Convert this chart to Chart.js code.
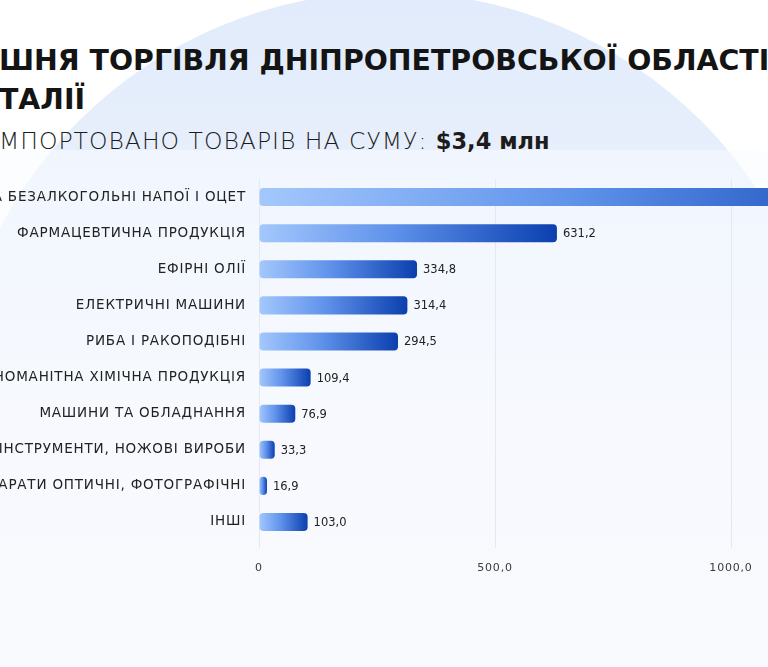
<!DOCTYPE html>
<html lang="uk">
<head>
<meta charset="utf-8">
<title>Імпорт з Італії</title>
<script src="https://cdn.jsdelivr.net/npm/chart.js@4"></script>
<style>
    html, body {
        margin: 0;
        padding: 0;
        width: 768px;
        height: 667px;
        overflow: hidden;
        background: #ffffff;
        font-family: 'DejaVu Sans', sans-serif;
    }
    .page {
        position: relative;
        width: 768px;
        height: 667px;
        overflow: hidden;
        background: linear-gradient(to bottom, #ffffff 0%, #ffffff 40%, #f7f9fd 100%);
    }
    .circle {
        position: absolute;
        left: -50px;
        top: -8px;
        width: 880px;
        height: 880px;
        border-radius: 50%;
        background: linear-gradient(to bottom, #e1ebfb 0%, #e9f0fc 25%, #f4f7fd 50%, #f7f9fd 100%);
    }
    .card {
        position: absolute;
        left: -60px;
        right: -12px;
        top: 150px;
        bottom: -20px;
        border-radius: 28px;
        background: rgba(250, 252, 255, 0.55);
    }
    .titulo {
        position: absolute;
        left: -1px;
        top: 41px;
        margin: 0;
        font-size: 28.4px;
        font-weight: 700;
        line-height: 39px;
        color: #141414;
        white-space: nowrap;
    }
    .linha {
        position: relative;
        display: block;
    }
    .corte {
        position: absolute;
        right: 100%;
        top: 0;
    }
    .subtitulo {
        position: absolute;
        left: -1px;
        top: 127px;
        margin: 0;
        font-size: 23.5px;
        font-weight: 200;
        letter-spacing: 1px;
        color: #1c1c1c;
        white-space: nowrap;
    }
    .subtitulo strong {
        font-weight: 700;
        font-size: 22.5px;
        letter-spacing: 0;
    }
    .chart-box {
        position: absolute;
        left: -71px;
        top: 170px;
        width: 1068px;
        height: 410px;
    }
</style>
</head>
<body>
<div class="page">
    <div class="circle"></div>
    <div class="card"></div>
    <h1 class="titulo">
        <span class="linha"><span class="corte">ЗОВНІ</span>ШНЯ ТОРГІВЛЯ ДНІПРОПЕТРОВСЬКОЇ ОБЛАСТІ ТА</span>
        <span class="linha"><span class="corte">І</span>ТАЛІЇ</span>
    </h1>
    <p class="subtitulo"><span class="linha"><span class="corte">І</span>МПОРТОВАНО ТОВАРІВ НА СУМУ: <strong>$3,4 млн</strong></span></p>
    <div class="chart-box">
        <canvas id="importChart"></canvas>
    </div>
</div>

<script>
// Dados do gráfico (mil dólares)
const categorias = [
    'АЛКОГОЛЬНІ ТА БЕЗАЛКОГОЛЬНІ НАПОЇ І ОЦЕТ',
    'ФАРМАЦЕВТИЧНА ПРОДУКЦІЯ',
    'ЕФІРНІ ОЛІЇ',
    'ЕЛЕКТРИЧНІ МАШИНИ',
    'РИБА І РАКОПОДІБНІ',
    'РІЗНОМАНІТНА ХІМІЧНА ПРОДУКЦІЯ',
    'МАШИНИ ТА ОБЛАДНАННЯ',
    'ІНСТРУМЕНТИ, НОЖОВІ ВИРОБИ',
    'АПАРАТИ ОПТИЧНІ, ФОТОГРАФІЧНІ',
    'ІНШІ'
];
const valores = [1485.6, 631.2, 334.8, 314.4, 294.5, 109.4, 76.9, 33.3, 16.9, 103.0];
const ticksX = [0, 500, 1000, 1500];

// Formato com vírgula decimal
function formatar(v) {
    return v === 0 ? '0' : v.toFixed(1).replace('.', ',');
}

// Gradiente de cada barra, do zero até o valor
function gradienteBarra(context) {
    const chart = context.chart;
    const { ctx, chartArea } = chart;
    if (!chartArea) return '#4a7fe0';
    const escala = chart.scales.x;
    const x0 = escala.getPixelForValue(0);
    const x1 = escala.getPixelForValue(context.raw);
    const g = ctx.createLinearGradient(x0, 0, Math.max(x1, x0 + 1), 0);
    g.addColorStop(0, '#a4c8fd');
    g.addColorStop(0.45, '#5f92ea');
    g.addColorStop(1, '#0b3fae');
    return g;
}

// Espaçamento entre letras nos rótulos das categorias
const espacamento = {
    id: 'espacamento',
    beforeUpdate(chart) { chart.ctx.letterSpacing = '0.8px'; },
    beforeDraw(chart) { chart.ctx.letterSpacing = '0.8px'; }
};

// Plugin simples para escrever os valores ao lado das barras
const rotulosValores = {
    id: 'rotulosValores',
    afterDatasetsDraw(chart) {
        const ctx = chart.ctx;
        const meta = chart.getDatasetMeta(0);
        ctx.save();
        ctx.letterSpacing = '0px';
        ctx.font = "11.5px 'DejaVu Sans', sans-serif";
        ctx.fillStyle = '#222222';
        ctx.textBaseline = 'middle';
        ctx.textAlign = 'left';
        meta.data.forEach((barra, i) => {
            ctx.fillText(formatar(valores[i]), barra.x + 6, barra.y + 1);
        });
        ctx.restore();
    }
};

document.addEventListener('DOMContentLoaded', () => {
    Chart.defaults.font.family = "'DejaVu Sans', sans-serif";
    const ctx = document.getElementById('importChart').getContext('2d');

    new Chart(ctx, {
        type: 'bar',
        data: {
            labels: categorias,
            datasets: [{
                data: valores,
                backgroundColor: gradienteBarra,
                borderRadius: 4,
                borderSkipped: false,
                barPercentage: 0.5,
                categoryPercentage: 1
            }]
        },
        options: {
            indexAxis: 'y',
            responsive: true,
            maintainAspectRatio: false,
            animation: false,
            layout: {
                padding: { top: 9, right: 30, bottom: 0, left: 0 }
            },
            plugins: {
                legend: { display: false },
                tooltip: { enabled: false }
            },
            scales: {
                x: {
                    min: 0,
                    max: 1500,
                    afterFit(scale) {
                        scale.height = 40;
                        scale.paddingLeft = 0;
                        scale.paddingRight = 0;
                    },
                    afterBuildTicks(scale) {
                        scale.ticks = ticksX.map(v => ({ value: v }));
                    },
                    grid: {
                        color: '#e4e8ef',
                        tickLength: 8,
                        drawTicks: true
                    },
                    border: { display: false },
                    ticks: {
                        padding: 14,
                        color: '#3a3a3a',
                        font: { size: 11 },
                        callback: v => formatar(v)
                    }
                },
                y: {
                    afterFit(scale) {
                        scale.width = 330;
                        scale.paddingTop = 0;
                        scale.paddingBottom = 0;
                    },
                    grid: { display: false, drawTicks: false },
                    border: { display: false },
                    ticks: {
                        padding: 13,
                        color: '#222222',
                        font: { size: 13.5 }
                    }
                }
            }
        },
        plugins: [espacamento, rotulosValores]
    });
});
</script>
</body>
</html>
